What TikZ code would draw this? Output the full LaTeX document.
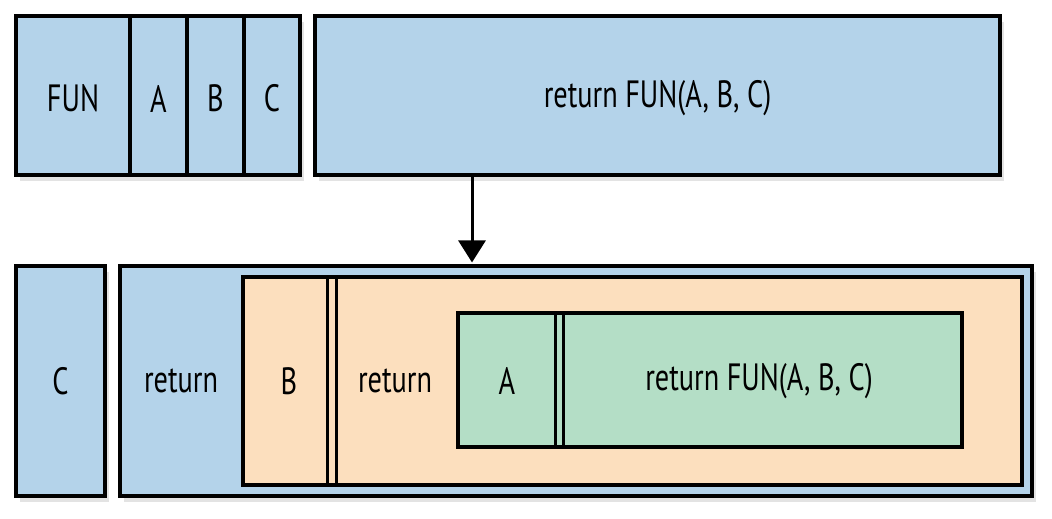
\documentclass[tikz,border=0pt]{standalone}
\usepackage{fontspec}
\setmainfont{PT Sans}[FakeStretch=0.745]
\usetikzlibrary{arrows.meta,fit,shadows}

\definecolor{frameblue}{RGB}{180,211,234}
\definecolor{framepeach}{RGB}{252,223,190}
\definecolor{framegreen}{RGB}{180,222,198}

\begin{document}
\begin{tikzpicture}[
    x=0.5pt, y=-0.5pt,
    cell/.style={
      rectangle,
      draw=black,
      line width=1.75pt,
      inner sep=0pt
    },
    shade/.style={
      drop shadow={opacity=0.22, shadow xshift=2pt, shadow yshift=-3pt}
    },
    word/.style={
      inner sep=0pt,
      font=\fontsize{19}{22}\selectfont
    },
    divider/.style={
      draw=black,
      line width=1.5pt
    },
    call/.style={
      -{Triangle[length=11pt,width=13.5pt]},
      draw=black,
      line width=1.5pt
    }
  ]
    \useasboundingbox (0,0) rectangle (1052,518);

    % top row: the frame before the call
    \node[cell, shade, fill=frameblue, fit={(16,16) (130,175)}] (fun) {};
    \node[cell, shade, fill=frameblue, fit={(130,16) (187,175)}] (argA) {};
    \node[cell, shade, fill=frameblue, fit={(187,16) (244,175)}] (argB) {};
    \node[cell, shade, fill=frameblue, fit={(244,16) (300,175)}] (argC) {};
    \node[cell, shade, fill=frameblue, fit={(315,16) (1000,175)}] (body) {};
    \node[word] (funTxt) at ([yshift=-1.5pt]fun) {FUN};
    \node[word] (argATxt) at ([yshift=-1.5pt]argA) {A};
    \node[word] (argBTxt) at ([yshift=-1.5pt]argB) {B};
    \node[word] (argCTxt) at ([yshift=-1.5pt]argC) {C};
    \node[word] (bodyTxt) at ([yshift=-1.5pt]body) {return FUN(A, B, C)};

    % bottom row: the nested frames
    \node[cell, shade, fill=frameblue, fit={(16,266) (105,496)}] (argCC) {};
    \node[word] (argCCTxt) at (argCC) {C};
    \node[cell, shade, fill=frameblue, fit={(120,266) (1032,496)}] (outer) {};
    \node[word] (retC) at (181,381) {return};

    \node[cell, fill=framepeach, fit={(243,277) (1022,485)}] (middle) {};
    \node[word] (argBB) at (289,381) {B};
    \draw[divider] (327,277) -- (327,485);
    \draw[divider] (336,277) -- (336,485);
    \node[word] (retB) at (395,381) {return};

    \node[cell, fill=framegreen, fit={(458,313) (962,447)}] (inner) {};
    \node[word] (argAA) at (507,381) {A};
    \draw[divider] (555,313) -- (555,447);
    \draw[divider] (563,313) -- (563,447);
    \node[word] (retA) at (759,381) {return FUN(A, B, C)};

    \coordinate (drop) at (472,0);
    \draw[call] (body.south -| drop) -- ([yshift=0.9pt]outer.north -| drop);
  \end{tikzpicture}
\end{document}
